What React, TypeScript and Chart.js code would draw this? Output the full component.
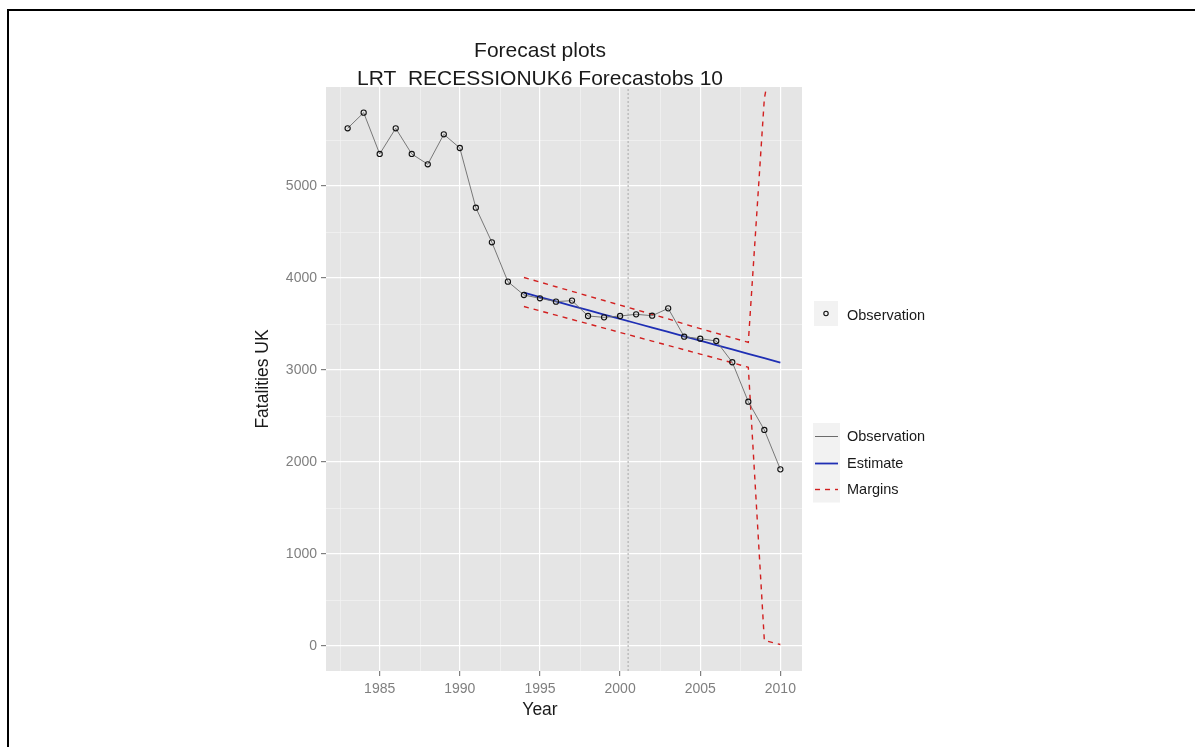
import React, { useEffect, useRef } from "react";
import { Chart, registerables } from "chart.js";

Chart.register(...registerables);

// ---------- data ----------
const obsYears = [1983, 1984, 1985, 1986, 1987, 1988, 1989, 1990, 1991, 1992, 1993, 1994, 1995, 1996, 1997, 1998, 1999, 2000, 2001, 2002, 2003, 2004, 2005, 2006, 2007, 2008, 2009, 2010];
const obsValues = [5627, 5797, 5348, 5627, 5348, 5236, 5562, 5413, 4764, 4388, 3960, 3815, 3779, 3743, 3754, 3587, 3572, 3587, 3605, 3590, 3670, 3362, 3340, 3315, 3084, 2655, 2348, 1920];

const fcYears = [1994, 1995, 1996, 1997, 1998, 1999, 2000, 2001, 2002, 2003, 2004, 2005, 2006, 2007, 2008, 2009, 2010];
const estimateValues = [3840, 3793, 3745, 3698, 3650, 3603, 3555, 3508, 3460, 3413, 3365, 3318, 3270, 3223, 3175, 3128, 3080];
const upperValues = [4005, 3955, 3905, 3855, 3805, 3755, 3705, 3655, 3605, 3555, 3500, 3450, 3400, 3350, 3300, 5950, 6900];
const lowerValues = [3690, 3643, 3596, 3549, 3502, 3455, 3408, 3361, 3314, 3267, 3220, 3173, 3126, 3079, 3030, 60, 16];

const xTicks = [1985, 1990, 1995, 2000, 2005, 2010];
const xMinor = [1982.5, 1987.5, 1992.5, 1997.5, 2002.5, 2007.5];
const yTicks = [0, 1000, 2000, 3000, 4000, 5000];
const yMinor = [500, 1500, 2500, 3500, 4500, 5500];
const xRange = [1981.65, 2011.35];
const yRange = [-272, 6076];
const forecastStart = 2000.5;

const titleLines = ["Forecast plots", "LRT  RECESSIONUK6 Forecastobs 10"];
const xTitle = "Year";
const yTitle = "Fatalities UK";
const pointLegendLabel = "Observation";

const FONT = "'Liberation Sans', Arial, Helvetica, sans-serif";

const COLORS = {
  obsLine: "#6b6b6b",
  obsPoint: "#111111",
  estimate: "#1f2fb4",
  margins: "#d21f1f",
  vline: "#a8a8a8",
  panel: "#e5e5e5",
  keyBg: "#f2f2f2",
  tick: "#7f7f7f",
  text: "#1a1a1a",
};

const decorPlugin = {
  id: "decor",
  beforeDraw(chart: any) {
    const { ctx, chartArea, scales } = chart;
    const { left, right, top, bottom } = chartArea;
    ctx.save();
    ctx.fillStyle = "#ffffff";
    ctx.fillRect(0, 0, chart.width, chart.height);
    // frame
    ctx.fillStyle = "#000000";
    ctx.fillRect(7, 9, 2, chart.height - 9);
    ctx.fillRect(7, 9, chart.width - 7, 2);
    // panel
    ctx.fillStyle = COLORS.panel;
    ctx.fillRect(left, top, right - left, bottom - top);
    // minor grid
    ctx.strokeStyle = "#f4f4f4";
    ctx.lineWidth = 0.7;
    xMinor.forEach((v) => {
      const px = Math.round(scales.x.getPixelForValue(v)) + 0.5;
      ctx.beginPath();
      ctx.moveTo(px, top);
      ctx.lineTo(px, bottom);
      ctx.stroke();
    });
    yMinor.forEach((v) => {
      const py = Math.round(scales.y.getPixelForValue(v)) + 0.5;
      ctx.beginPath();
      ctx.moveTo(left, py);
      ctx.lineTo(right, py);
      ctx.stroke();
    });
    ctx.restore();
  },
  afterDraw(chart: any) {
    const { ctx, chartArea } = chart;
    ctx.save();
    ctx.fillStyle = COLORS.text;
    ctx.textAlign = "center";
    ctx.textBaseline = "alphabetic";
    ctx.font = `21px ${FONT}`;
    ctx.fillText(titleLines[0], 540, 57);
    ctx.fillText(titleLines[1], 540, 85);

    // axis titles
    ctx.font = `17.5px ${FONT}`;
    ctx.textBaseline = "middle";
    ctx.fillText(xTitle, 540, 710);
    ctx.save();
    ctx.translate(263, (chartArea.top + chartArea.bottom) / 2);
    ctx.rotate(-Math.PI / 2);
    ctx.fillText(yTitle, 0, 0);
    ctx.restore();

    // legend 1: points
    ctx.fillStyle = COLORS.keyBg;
    ctx.fillRect(814, 301, 24, 25);
    ctx.strokeStyle = COLORS.obsPoint;
    ctx.lineWidth = 1.1;
    ctx.beginPath();
    ctx.arc(826, 313.5, 2.2, 0, Math.PI * 2);
    ctx.stroke();
    ctx.fillStyle = COLORS.text;
    ctx.textAlign = "left";
    ctx.font = `14.5px ${FONT}`;
    ctx.fillText(pointLegendLabel, 847, 316);

    // legend 2: lines (from datasets)
    const items = chart.data.datasets.filter((d: any) => d.legendKey);
    const rowH = 26.5;
    const top0 = 423;
    ctx.fillStyle = COLORS.keyBg;
    ctx.fillRect(813, top0, 27, rowH * items.length);
    items.forEach((d: any, i: number) => {
      const cy = top0 + rowH * i + rowH / 2;
      ctx.save();
      ctx.strokeStyle = d.borderColor;
      ctx.lineWidth = Math.max(1, d.borderWidth);
      ctx.setLineDash(d.borderDash || []);
      ctx.beginPath();
      ctx.moveTo(815, Math.round(cy) + 0.5);
      ctx.lineTo(838, Math.round(cy) + 0.5);
      ctx.stroke();
      ctx.restore();
      ctx.fillStyle = COLORS.text;
      ctx.fillText(d.label, 847, cy + 1);
    });
    ctx.restore();
  },
};

export default function App() {
  const ref = useRef<HTMLCanvasElement | null>(null);

  useEffect(() => {
    if (!ref.current) return;
    const chart = new Chart(ref.current, {
      type: "line",
      data: {
        datasets: [
          {
            label: "Observation",
            legendKey: true,
            data: obsYears.map((x, i) => ({ x, y: obsValues[i] })),
            borderColor: COLORS.obsLine,
            borderWidth: 0.9,
            pointRadius: 2.6,
            pointBorderWidth: 1.1,
            pointBorderColor: COLORS.obsPoint,
            pointBackgroundColor: "rgba(0,0,0,0)",
            tension: 0,
            order: 0,
          } as any,
          {
            label: "Estimate",
            legendKey: true,
            data: fcYears.map((x, i) => ({ x, y: estimateValues[i] })),
            borderColor: COLORS.estimate,
            borderWidth: 1.8,
            pointRadius: 0,
            tension: 0,
            order: 1,
          } as any,
          {
            label: "Margins",
            legendKey: true,
            data: fcYears.map((x, i) => ({ x, y: upperValues[i] })),
            borderColor: COLORS.margins,
            borderWidth: 1.4,
            borderDash: [5, 5],
            pointRadius: 0,
            tension: 0,
            order: 2,
          } as any,
          {
            label: "Margins (lower)",
            data: fcYears.map((x, i) => ({ x, y: lowerValues[i] })),
            borderColor: COLORS.margins,
            borderWidth: 1.4,
            borderDash: [5, 5],
            pointRadius: 0,
            tension: 0,
            order: 2,
          } as any,
          {
            label: "Forecast start",
            data: [
              { x: forecastStart, y: yRange[0] },
              { x: forecastStart, y: yRange[1] },
            ],
            borderColor: COLORS.vline,
            borderWidth: 1,
            borderDash: [2, 2],
            pointRadius: 0,
            order: 3,
          } as any,
        ],
      },
      options: {
        animation: false,
        responsive: false,
        maintainAspectRatio: false,
        layout: { padding: { left: 0, top: 87, right: 1195 - 802, bottom: 0 } },
        plugins: { legend: { display: false }, tooltip: { enabled: false }, title: { display: false } },
        scales: {
          x: {
            type: "linear",
            min: xRange[0],
            max: xRange[1],
            afterBuildTicks: (s: any) => {
              s.ticks = xTicks.map((v) => ({ value: v }));
            },
            afterFit: (s: any) => {
              s.height = 747 - 671;
            },
            ticks: {
              color: COLORS.tick,
              font: { family: FONT, size: 14 },
              padding: 5,
              maxRotation: 0,
              minRotation: 0,
              autoSkip: false,
              callback: (v: any) => String(v),
            },
            grid: { color: "#ffffff", lineWidth: 1.2, tickColor: COLORS.tick, tickLength: 5 },
            border: { display: false },
          },
          y: {
            type: "linear",
            min: yRange[0],
            max: yRange[1],
            afterBuildTicks: (s: any) => {
              s.ticks = yTicks.map((v) => ({ value: v }));
            },
            afterFit: (s: any) => {
              s.width = 326;
            },
            ticks: {
              color: COLORS.tick,
              font: { family: FONT, size: 14 },
              padding: 4,
              autoSkip: false,
              callback: (v: any) => String(v),
            },
            grid: { color: "#ffffff", lineWidth: 1.2, tickColor: COLORS.tick, tickLength: 5 },
            border: { display: false },
          },
        },
      },
      plugins: [decorPlugin],
    } as any);
    return () => chart.destroy();
  }, []);

  return (
    <div style={{ position: "fixed", left: 0, top: 0, width: 1195, height: 747, background: "#fff" }}>
      <canvas ref={ref} width={1195} height={747} style={{ width: 1195, height: 747, display: "block" }} />
    </div>
  );
}
